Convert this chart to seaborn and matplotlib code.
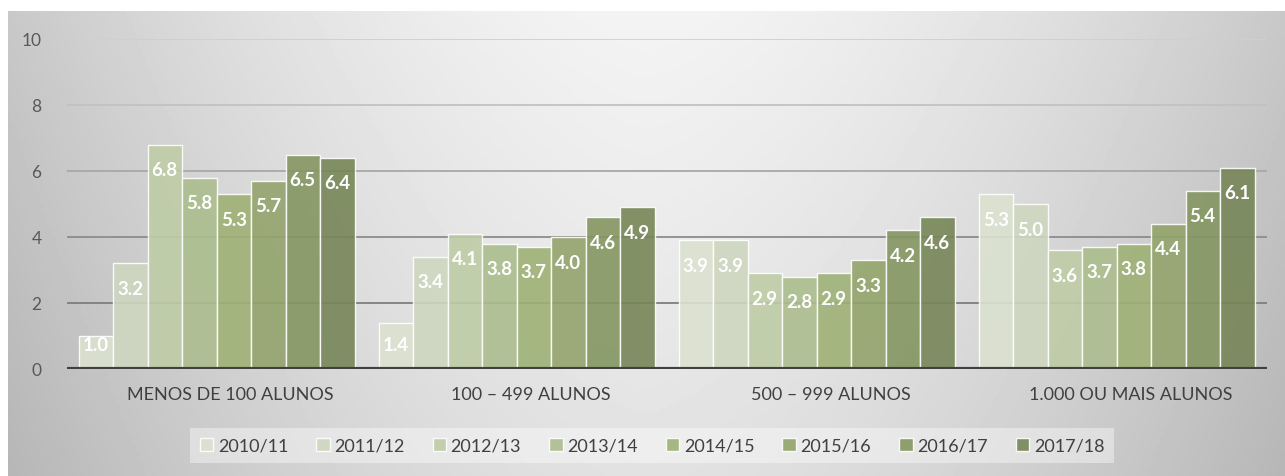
import numpy as np
import pandas as pd
import matplotlib
matplotlib.use("Agg")
import matplotlib.pyplot as plt
import matplotlib.transforms as mtransforms
import seaborn as sns

# ---------------------------------
# DATA
# ---------------------------------
categorias = ["MENOS DE 100 ALUNOS", "100 – 499 ALUNOS",
              "500 – 999 ALUNOS", "1.000 OU MAIS ALUNOS"]
anos = ["2010/11", "2011/12", "2012/13", "2013/14",
        "2014/15", "2015/16", "2016/17", "2017/18"]

v_2010_11 = [1.0, 1.4, 3.9, 5.3]
v_2011_12 = [3.2, 3.4, 3.9, 5.0]
v_2012_13 = [6.8, 4.1, 2.9, 3.6]
v_2013_14 = [5.8, 3.8, 2.8, 3.7]
v_2014_15 = [5.3, 3.7, 2.9, 3.8]
v_2015_16 = [5.7, 4.0, 3.3, 4.4]
v_2016_17 = [6.5, 4.6, 4.2, 5.4]
v_2017_18 = [6.4, 4.9, 4.6, 6.1]

yticks = [0, 2, 4, 6, 8, 10]

series = [v_2010_11, v_2011_12, v_2012_13, v_2013_14,
          v_2014_15, v_2015_16, v_2016_17, v_2017_18]

df = pd.DataFrame({
    "categoria": [c for _ in anos for c in categorias],
    "ano": [a for a in anos for _ in categorias],
    "valor": [v for s in series for v in s],
})

cores = ["#dce4cc", "#cfdabb", "#bfd2a0", "#aec586",
         "#a2bb6c", "#96ad63", "#879f58", "#7a8e50"]

# ---------------------------------
# FIGURE
# ---------------------------------
sns.set_theme(style="white")
plt.rcParams["font.family"] = ["Lato", "DejaVu Sans"]

fig = plt.figure(figsize=(12.85, 4.77), dpi=100)
fig.patch.set_facecolor("white")

# gradient background of the chart area
bg = fig.add_axes([8 / 1285, 0, 1 - 8 / 1285, 1 - 12 / 477], zorder=-5)
xx, yy = np.meshgrid(np.linspace(-1, 1, 400), np.linspace(0, 1, 150))
grad = 0.955 - 0.17 * np.abs(xx) ** 1.6 - 0.07 * yy
bg.imshow(grad, cmap="gray", vmin=0, vmax=1, aspect="auto",
          extent=[0, 1, 0, 1], origin="upper")
bg.set_axis_off()

ax = fig.add_axes([66.5 / 1285, 1 - 370 / 477, 1200 / 1285, 330 / 477])
ax.set_facecolor("none")

sns.barplot(data=df, x="categoria", y="valor", hue="ano",
            order=categorias, hue_order=anos, palette=cores,
            width=0.92, gap=0, dodge=True, ax=ax, zorder=3,
            edgecolor=(1, 1, 1, 0.55), linewidth=1.0, alpha=0.9)

ax.set_ylim(0, 10)
ax.set_xlim(-0.5, 3.5)
ax.set_yticks(yticks)
ax.set_xlabel("")
ax.set_ylabel("")

# gridlines (darker toward the bottom)
grid_cores = {2: "#7e7e7e", 4: "#8c8c8c", 6: "#a8a8a8", 8: "#c2c2c2", 10: "#cfcfcf"}
for yv, c in grid_cores.items():
    ax.axhline(yv, color=c, lw=1.3, zorder=1)
ax.axhline(0, color="#404040", lw=3, zorder=5)

for s in ax.spines.values():
    s.set_visible(False)

ax.tick_params(axis="y", length=0, pad=18, labelsize=12.5, labelcolor="#595959")
ax.tick_params(axis="x", length=0, pad=12, labelsize=13, labelcolor="#404040")

offset = mtransforms.ScaledTranslation(0.14, 0, fig.dpi_scale_trans)
for lbl in ax.get_xticklabels():
    lbl.set_transform(lbl.get_transform() + offset)

# value labels inside the top of each bar
for cont in ax.containers:
    for bar in cont:
        h = bar.get_height()
        y = max(h - 0.76, 0.73)
        ax.text(bar.get_x() + bar.get_width() / 2, y, f"{h:.1f}",
                ha="center", va="center", color="white",
                fontsize=13.5, fontweight="bold", zorder=6)

# legend
handles, labels = ax.get_legend_handles_labels()
ax.get_legend().remove()
leg = fig.legend(handles, labels, ncol=8, loc="center",
                 bbox_to_anchor=(652 / 1285, 1 - 446.5 / 477),
                 frameon=True, fancybox=False, facecolor="white",
                 framealpha=0.4, edgecolor="none",
                 handlelength=0.75, handleheight=0.75, handletextpad=0.25,
                 columnspacing=1.55, fontsize=13, borderpad=0.55)
for t in leg.get_texts():
    t.set_color("#404040")

fig.savefig("out.png", dpi=100)
